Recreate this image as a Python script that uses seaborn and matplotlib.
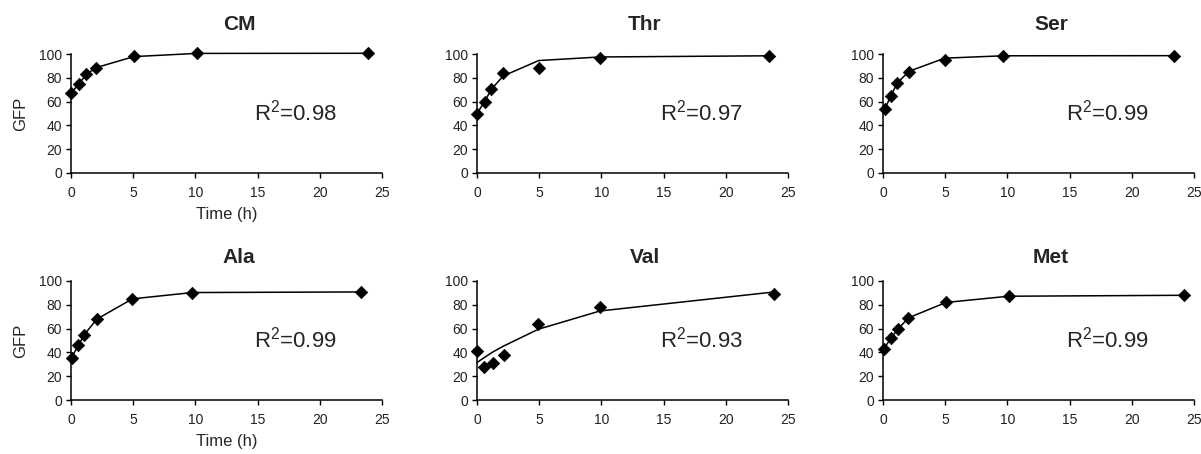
import matplotlib

matplotlib.use("Agg")

import pandas as pd
import seaborn as sns
from matplotlib import pyplot as plt

# GFP time courses, one panel per medium
panels = ["CM", "Thr", "Ser", "Ala", "Val", "Met"]
r_squared = ["0.98", "0.97", "0.99", "0.99", "0.93", "0.99"]

cm_time = [0, 0.64, 1.2, 2.0, 5.05, 10.1, 23.9]
cm_gfp = [67, 75, 83, 88, 98, 100.6, 100.6]
cm_fit = [67, 75, 82.5, 88.5, 97.8, 100.5, 100.6]

thr_time = [0, 0.67, 1.13, 2.1, 4.96, 9.87, 23.5]
thr_gfp = [50, 59.7, 71, 84, 88.5, 96.6, 98.5]
thr_fit = [50, 61, 70, 81.5, 94.5, 97.5, 98.5]

ser_time = [0.13, 0.67, 1.13, 2.1, 4.96, 9.65, 23.4]
ser_gfp = [53.5, 65, 76, 85, 95.2, 98.6, 98.6]
ser_fit = [53.5, 65.5, 75.5, 85.5, 96.5, 98.5, 98.6]

ala_time = [0.08, 0.6, 1.07, 2.08, 4.94, 9.75, 23.3]
ala_gfp = [35.7, 46, 55, 68, 85, 90.3, 90.8]
ala_fit = [36.5, 46, 55, 68, 85, 90.3, 90.8]

val_time = [0, 0.56, 1.29, 2.17, 4.94, 9.88, 23.9]
val_gfp = [41, 28, 31, 37.5, 64, 78, 89]
val_fit = [31.5, 35.5, 40.5, 45.5, 59.5, 74.8, 90.8]

met_time = [0.05, 0.67, 1.2, 2.04, 5.07, 10.1, 24.2]
met_gfp = [42.7, 52.5, 59.5, 69, 82, 87.2, 88]
met_fit = [42.7, 52.5, 59.5, 69, 82, 87.2, 88]

series = {
    "CM": (cm_time, cm_gfp, cm_fit),
    "Thr": (thr_time, thr_gfp, thr_fit),
    "Ser": (ser_time, ser_gfp, ser_fit),
    "Ala": (ala_time, ala_gfp, ala_fit),
    "Val": (val_time, val_gfp, val_fit),
    "Met": (met_time, met_gfp, met_fit),
}

x_ticks = [0, 5, 10, 15, 20, 25]
y_ticks = [0, 20, 40, 60, 80, 100]

sns.set_style("ticks")
plt.rcParams["font.family"] = ["Liberation Sans", "DejaVu Sans"]
plt.rcParams["mathtext.fontset"] = "custom"
plt.rcParams["mathtext.rm"] = "Liberation Sans"
plt.rcParams["mathtext.it"] = "Liberation Sans"
plt.rcParams["mathtext.default"] = "regular"

fig = plt.figure(figsize=(12.01, 4.54), dpi=100)
W, H = 1201, 454
col_left = [71, 477, 883]
row_bottom = [173, 400]
ax_w, ax_h = 311, 119

for i, name in enumerate(panels):
    row, col = divmod(i, 3)
    rect = [col_left[col] / W, 1 - row_bottom[row] / H, ax_w / W, ax_h / H]
    ax = fig.add_axes(rect)
    time, gfp, fit = series[name]
    frame = pd.DataFrame({"time": time, "gfp": gfp, "fit": fit})

    sns.lineplot(data=frame, x="time", y="fit", color="black", linewidth=1.1,
                 ax=ax, clip_on=False, zorder=3)
    sns.scatterplot(data=frame, x="time", y="gfp", marker="D", color="black",
                    s=40, edgecolor="black", linewidth=0.5, ax=ax,
                    clip_on=False, zorder=4)

    ax.set_xlim(0, 25)
    ax.set_ylim(0, 100)
    ax.set_xticks(x_ticks)
    ax.set_yticks(y_ticks)
    ax.tick_params(axis="both", labelsize=10, length=3.5, width=1,
                   color="black", labelcolor="#222222", pad=3)
    ax.tick_params(axis="x", pad=6)
    for side in ["left", "bottom"]:
        ax.spines[side].set_linewidth(1.1)
        ax.spines[side].set_color("black")
    sns.despine(ax=ax)

    ax.set_title(name, fontsize=15, fontweight="bold", x=0.54,
                 pad=17 if row == 0 else 13)
    ax.text(0.588, 0.51, f"R$^2$={r_squared[i]}", transform=ax.transAxes,
            fontsize=16, ha="left", va="center")

    if col == 0:
        ax.set_ylabel("GFP", fontsize=12, labelpad=8)
        ax.set_xlabel("Time (h)", fontsize=12, labelpad=5)
    else:
        ax.set_ylabel("")
        ax.set_xlabel("")

fig.savefig("out.png", dpi=100)
plt.close(fig)
